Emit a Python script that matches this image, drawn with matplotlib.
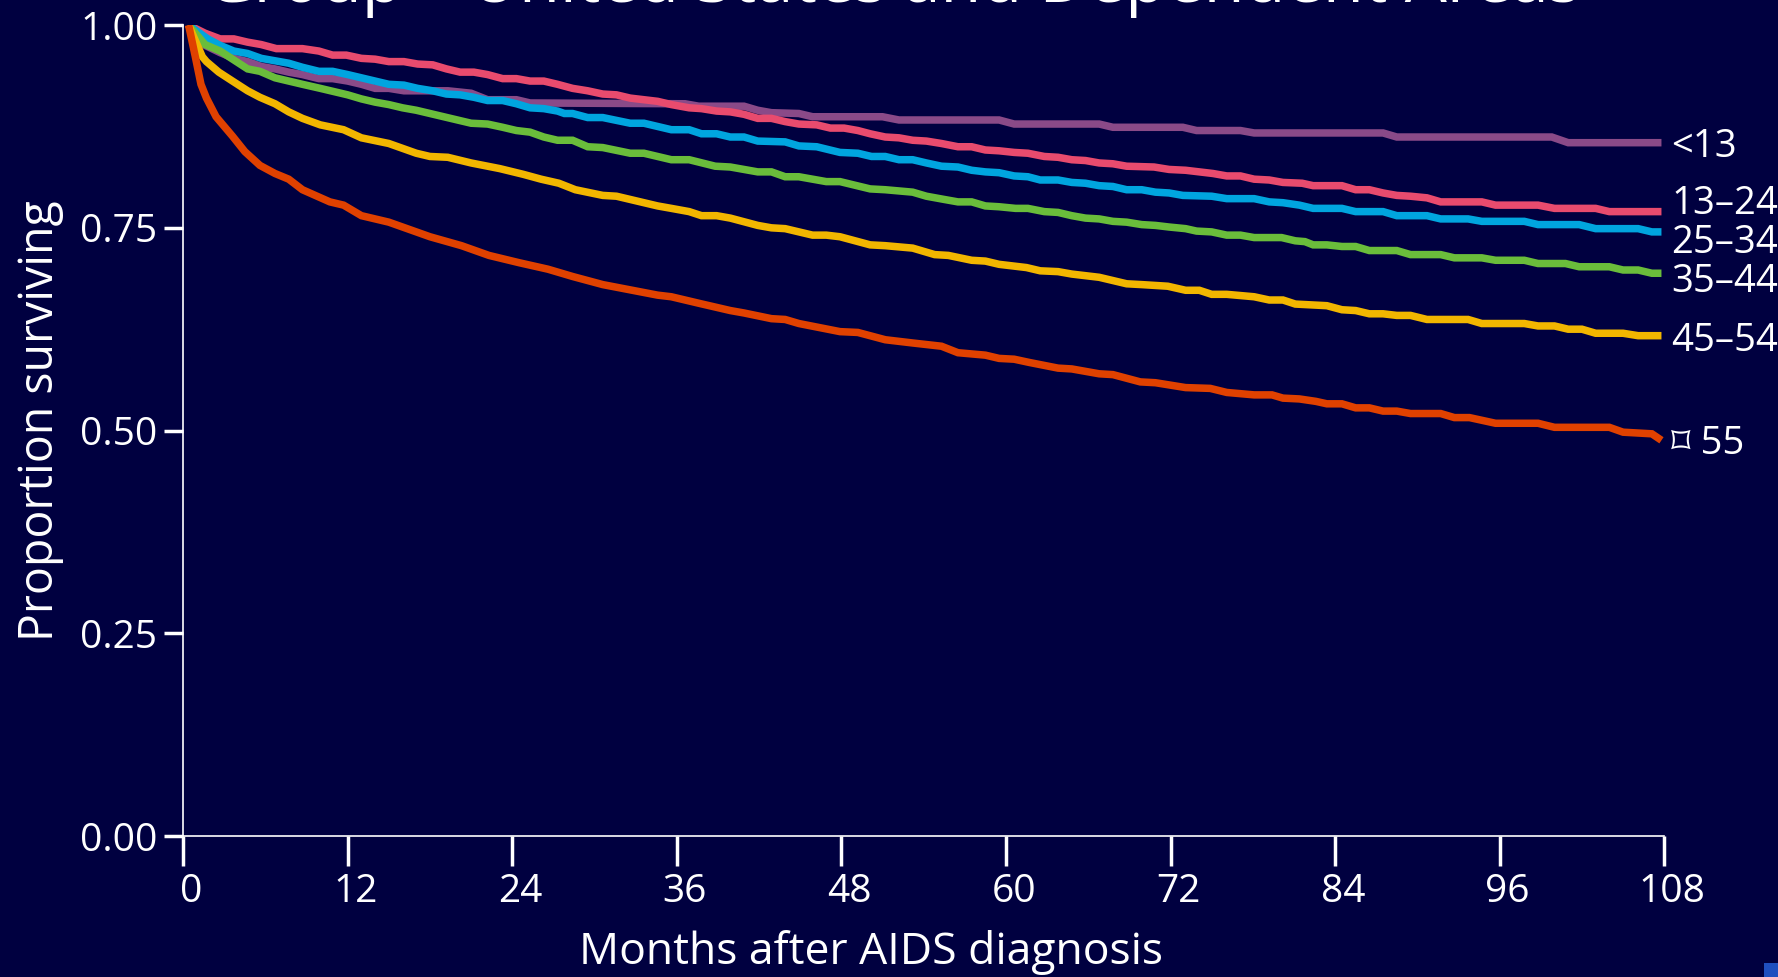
import numpy as np
import matplotlib
matplotlib.use("Agg")
import matplotlib.pyplot as plt
import matplotlib.transforms as mtransforms
from matplotlib.patches import Rectangle

fams = ['Open Sans', 'DejaVu Sans', 'Noto Sans CJK SC']
plt.rcParams['font.family'] = fams

# (month, proportion surviving)
lt13 = [(0.4, 1.0), (1.6, 0.975), (2.7, 0.966), (3.7, 0.959), (4.7, 0.955), (5.7, 0.949),
        (6.7, 0.946), (7.7, 0.942), (8.7, 0.939), (9.9, 0.934), (10.9, 0.934), (12.0, 0.931),
        (13.0, 0.927), (14.0, 0.922), (15.0, 0.922), (16.1, 0.919), (17.1, 0.919), (19.3, 0.919),
        (21.0, 0.916), (22.2, 0.908), (24.3, 0.908), (25.3, 0.904), (36.6, 0.903), (37.6, 0.900),
        (40.9, 0.900), (41.9, 0.895), (42.9, 0.892), (44.9, 0.891), (45.9, 0.887), (51.0, 0.887),
        (52.2, 0.883), (59.5, 0.883), (60.6, 0.878), (66.8, 0.878), (67.8, 0.874), (72.9, 0.874),
        (73.9, 0.870), (77.1, 0.870), (78.1, 0.867), (87.5, 0.867), (88.5, 0.862), (99.8, 0.862),
        (101.0, 0.855), (107.8, 0.855)]

age13_24 = [(0.4, 1.0), (1.6, 0.990), (2.7, 0.983), (3.7, 0.983), (4.7, 0.979), (5.7, 0.976),
            (6.8, 0.971), (8.7, 0.971), (9.9, 0.968), (10.9, 0.963), (11.9, 0.963), (13.0, 0.959),
            (14.0, 0.958), (15.0, 0.955), (16.1, 0.955), (17.1, 0.952), (18.2, 0.951), (19.2, 0.946),
            (20.2, 0.942), (21.2, 0.942), (22.2, 0.939), (23.3, 0.934), (24.3, 0.934), (25.3, 0.931),
            (26.3, 0.931), (27.3, 0.927), (28.4, 0.922), (29.5, 0.919), (30.6, 0.915), (31.6, 0.914),
            (32.6, 0.910), (33.6, 0.908), (34.6, 0.906), (35.6, 0.902), (36.9, 0.898), (37.8, 0.897),
            (38.9, 0.894), (39.9, 0.893), (40.9, 0.890), (41.9, 0.885), (42.9, 0.885), (43.9, 0.881),
            (44.9, 0.878), (46.2, 0.877), (47.2, 0.873), (48.2, 0.873), (49.2, 0.870), (50.1, 0.866),
            (51.2, 0.862), (52.2, 0.861), (53.2, 0.858), (54.2, 0.857), (55.3, 0.854), (56.5, 0.850),
            (57.5, 0.850), (58.5, 0.846), (59.5, 0.845), (60.6, 0.843), (61.6, 0.842), (62.8, 0.838),
            (63.8, 0.837), (64.8, 0.834), (65.8, 0.833), (66.8, 0.830), (67.8, 0.829), (68.8, 0.826),
            (70.8, 0.825), (71.9, 0.822), (73.1, 0.821), (74.1, 0.819), (75.1, 0.817), (76.1, 0.814),
            (77.1, 0.814), (78.1, 0.810), (79.2, 0.809), (80.2, 0.806), (81.6, 0.805), (82.4, 0.802),
            (84.5, 0.802), (85.5, 0.797), (86.5, 0.797), (87.5, 0.793), (88.5, 0.790), (89.5, 0.789),
            (90.7, 0.787), (91.7, 0.782), (94.7, 0.782), (95.7, 0.778), (98.8, 0.778), (100.0, 0.774),
            (103.0, 0.774), (104.0, 0.770), (107.8, 0.770)]

age25_34 = [(0.4, 1.0), (1.8, 0.983), (2.7, 0.975), (3.7, 0.968), (4.7, 0.965), (5.7, 0.959),
            (6.7, 0.956), (7.7, 0.953), (8.7, 0.948), (9.9, 0.943), (10.9, 0.943), (12.0, 0.939),
            (13.0, 0.935), (14.0, 0.931), (15.0, 0.927), (16.1, 0.926), (17.1, 0.922), (18.2, 0.919),
            (19.2, 0.915), (20.2, 0.914), (21.2, 0.911), (22.2, 0.907), (23.3, 0.907), (24.3, 0.903),
            (25.3, 0.898), (26.3, 0.897), (27.3, 0.894), (27.8, 0.891), (28.4, 0.891), (29.5, 0.886),
            (30.6, 0.886), (32.6, 0.879), (33.6, 0.879), (35.6, 0.871), (36.9, 0.871), (37.8, 0.866),
            (38.9, 0.866), (39.9, 0.862), (40.9, 0.862), (41.9, 0.857), (43.9, 0.856), (44.9, 0.851),
            (46.2, 0.850), (47.9, 0.843), (49.2, 0.842), (50.2, 0.838), (51.2, 0.838), (52.2, 0.834),
            (53.2, 0.834), (54.2, 0.830), (55.3, 0.826), (56.5, 0.825), (57.5, 0.821), (58.5, 0.819),
            (59.5, 0.818), (60.6, 0.814), (61.6, 0.813), (62.5, 0.809), (63.8, 0.809), (64.8, 0.806),
            (65.8, 0.805), (66.8, 0.802), (67.8, 0.801), (68.8, 0.797), (69.9, 0.797), (70.9, 0.794),
            (71.9, 0.793), (72.9, 0.790), (75.0, 0.789), (76.1, 0.786), (78.1, 0.786), (79.2, 0.782),
            (80.2, 0.781), (81.4, 0.778), (82.4, 0.774), (84.5, 0.774), (85.5, 0.770), (87.5, 0.770),
            (88.5, 0.765), (90.7, 0.765), (91.7, 0.761), (93.7, 0.761), (94.7, 0.758), (97.8, 0.758),
            (98.8, 0.754), (101.8, 0.754), (103.0, 0.749), (106.1, 0.749), (107.1, 0.745),
            (107.8, 0.745)]

age35_44 = [(0.4, 1.0), (1.6, 0.976), (2.7, 0.968), (3.7, 0.957), (4.7, 0.946), (5.6, 0.943),
            (6.7, 0.935), (7.7, 0.931), (8.7, 0.927), (10.0, 0.922), (11.0, 0.918), (12.0, 0.914),
            (13.0, 0.909), (14.0, 0.905), (15.0, 0.902), (16.0, 0.898), (17.0, 0.895), (18.0, 0.891),
            (19.0, 0.887), (20.0, 0.883), (21.0, 0.879), (22.2, 0.878), (23.3, 0.874), (24.3, 0.870),
            (25.3, 0.868), (26.3, 0.862), (27.3, 0.858), (28.4, 0.858), (29.5, 0.850), (30.6, 0.849),
            (32.6, 0.842), (33.6, 0.842), (35.6, 0.834), (36.9, 0.834), (38.8, 0.826), (39.9, 0.825),
            (41.9, 0.819), (42.9, 0.819), (43.9, 0.813), (44.9, 0.813), (46.9, 0.807), (47.9, 0.807),
            (50.1, 0.798), (51.2, 0.797), (53.2, 0.794), (54.2, 0.789), (55.5, 0.785), (56.5, 0.782),
            (57.5, 0.782), (58.5, 0.777), (59.5, 0.776), (60.7, 0.774), (61.6, 0.774), (62.8, 0.770),
            (63.8, 0.769), (64.8, 0.765), (65.8, 0.762), (66.8, 0.761), (67.8, 0.758), (68.8, 0.757),
            (69.9, 0.754), (70.9, 0.753), (71.9, 0.751), (73.1, 0.749), (73.9, 0.746), (75.0, 0.745),
            (76.1, 0.741), (77.1, 0.741), (78.1, 0.738), (80.1, 0.738), (81.1, 0.734), (81.8, 0.733),
            (82.4, 0.729), (83.4, 0.729), (84.5, 0.727), (85.5, 0.727), (86.5, 0.722), (88.5, 0.722),
            (89.5, 0.717), (91.7, 0.717), (92.7, 0.713), (94.7, 0.713), (95.7, 0.710), (97.8, 0.710),
            (98.8, 0.706), (100.8, 0.706), (101.8, 0.702), (104.0, 0.702), (105.0, 0.698),
            (106.1, 0.698), (107.1, 0.694), (107.8, 0.694)]

age45_54 = [(0.4, 1.0), (1.4, 0.961), (1.7, 0.955), (2.6, 0.942), (3.6, 0.931), (4.7, 0.919),
            (5.6, 0.911), (6.7, 0.903), (7.7, 0.893), (8.7, 0.885), (10.0, 0.877), (11.7, 0.871),
            (13.0, 0.861), (15.0, 0.854), (16.0, 0.848), (17.0, 0.842), (18.0, 0.838), (19.3, 0.837),
            (21.0, 0.830), (23.1, 0.823), (24.8, 0.816), (26.1, 0.810), (27.4, 0.805), (28.6, 0.797),
            (30.6, 0.790), (31.6, 0.789), (32.6, 0.785), (34.6, 0.777), (35.6, 0.774), (36.9, 0.770),
            (37.8, 0.765), (38.9, 0.765), (39.9, 0.762), (41.9, 0.753), (42.9, 0.750), (43.9, 0.749),
            (45.9, 0.741), (46.9, 0.741), (47.9, 0.739), (50.1, 0.729), (51.2, 0.728), (53.2, 0.725),
            (54.8, 0.717), (55.8, 0.716), (57.5, 0.710), (58.5, 0.709), (59.5, 0.705), (61.5, 0.701),
            (62.5, 0.697), (63.8, 0.696), (64.8, 0.693), (66.8, 0.689), (68.8, 0.681), (69.9, 0.680),
            (71.8, 0.678), (73.1, 0.673), (74.1, 0.673), (75.0, 0.668), (76.1, 0.668), (78.1, 0.665),
            (79.2, 0.661), (80.2, 0.661), (81.1, 0.656), (83.4, 0.654), (84.5, 0.649), (85.5, 0.648),
            (86.5, 0.644), (87.5, 0.644), (88.5, 0.642), (89.5, 0.642), (90.7, 0.637), (93.7, 0.637),
            (94.7, 0.632), (97.8, 0.632), (98.8, 0.629), (100.0, 0.629), (101.0, 0.625),
            (102.0, 0.625), (103.0, 0.620), (105.0, 0.620), (106.1, 0.617), (107.8, 0.617)]

age55 = [(0.4, 1.0), (0.9, 0.960), (1.3, 0.927), (1.7, 0.910), (2.4, 0.887), (3.6, 0.863),
         (4.5, 0.844), (5.6, 0.827), (6.7, 0.817), (7.7, 0.810), (8.7, 0.797), (10.7, 0.782),
         (11.7, 0.778), (13.0, 0.765), (15.0, 0.757), (17.0, 0.745), (18.0, 0.739), (20.3, 0.728),
         (22.3, 0.716), (24.5, 0.707), (26.6, 0.699), (28.4, 0.690), (30.6, 0.680), (34.6, 0.667),
         (35.6, 0.665), (37.6, 0.657), (39.9, 0.648), (40.9, 0.645), (42.9, 0.638), (43.9, 0.637),
         (44.9, 0.632), (47.9, 0.622), (49.2, 0.621), (51.2, 0.612), (53.2, 0.608), (55.3, 0.604),
         (56.5, 0.596), (58.5, 0.593), (59.5, 0.589), (60.6, 0.588), (61.7, 0.584), (63.8, 0.577),
         (64.8, 0.576), (66.8, 0.570), (67.8, 0.569), (69.8, 0.560), (70.9, 0.559), (73.1, 0.553),
         (74.9, 0.552), (76.1, 0.547), (78.1, 0.544), (79.4, 0.544), (80.2, 0.540), (81.4, 0.539),
         (82.6, 0.536), (83.4, 0.533), (84.5, 0.533), (85.5, 0.528), (86.5, 0.528), (87.5, 0.524),
         (88.5, 0.524), (89.5, 0.521), (91.7, 0.521), (92.7, 0.516), (93.8, 0.516), (95.7, 0.509),
         (98.8, 0.509), (100.0, 0.504), (104.0, 0.504), (105.0, 0.498), (107.1, 0.496),
         (107.8, 0.488)]

series = [lt13, age13_24, age25_34, age35_44, age45_54, age55]
labels = ['<13', '13–24', '25–34', '35–44', '45–54', '⌑ 55']
label_y = [0.850, 0.780, 0.731, 0.683, 0.611, 0.484]
colors = ['#8a4a88', '#e84b6e', '#00a5df', '#6abd3b', '#f2b600', '#e04100']

x_ticks = [0, 12, 24, 36, 48, 60, 72, 84, 96, 108]
y_ticks = [0.0, 0.25, 0.5, 0.75, 1.0]

bg = '#000040'
fig = plt.figure(figsize=(17.78, 9.77), dpi=100, facecolor=bg)
ax = fig.add_axes([0.103, 0.1443, 0.833, 0.830], facecolor=bg)

for s, c in zip(series, colors):
    s = np.array(s)
    ax.plot(s[:, 0], s[:, 1], color=c, lw=5.4, solid_joinstyle='miter', solid_capstyle='butt')

for lab, yv in zip(labels, label_y):
    ax.text(108.5, yv, lab, color='white', fontsize=27.5, va='center', ha='left',
            clip_on=False, family=fams)

ax.set_xlim(0, 108)
ax.set_ylim(0, 1)
ax.set_xticks(x_ticks)
ax.set_yticks(y_ticks)
ax.set_yticklabels(['%.2f' % v for v in y_ticks])
for sp in ['top', 'right']:
    ax.spines[sp].set_visible(False)
for sp in ['left', 'bottom']:
    ax.spines[sp].set_color('white')
    ax.spines[sp].set_linewidth(1.2)
ax.tick_params(axis='y', colors='white', direction='out', length=13.5, width=2.5,
               labelsize=28, pad=5)
ax.tick_params(axis='x', colors='white', direction='out', length=21.5, width=2.5,
               labelsize=28, pad=5)
offset = mtransforms.ScaledTranslation(8 / 100, 0, fig.dpi_scale_trans)
for lbl in ax.get_xticklabels():
    lbl.set_transform(lbl.get_transform() + offset)

fig.text(0.0225, 0.569, 'Proportion surviving', rotation=90, color='white',
         fontsize=33.5, ha='center', va='center')
fig.text(0.49, 0.025, 'Months after AIDS diagnosis', color='white',
         fontsize=32, ha='center', va='center')
# title sits mostly above the top edge, as in the source slide
fig.text(0.502, 1 - 18 / 977, 'Group – United States and Dependent Areas', color='white',
         fontsize=48, ha='center', va='bottom')

fig.patches.append(Rectangle((0.992, 0.0), 0.008, 0.014, transform=fig.transFigure,
                             facecolor='#1f4fbf', edgecolor='none'))

fig.savefig('out.png', dpi=100, facecolor=bg)
